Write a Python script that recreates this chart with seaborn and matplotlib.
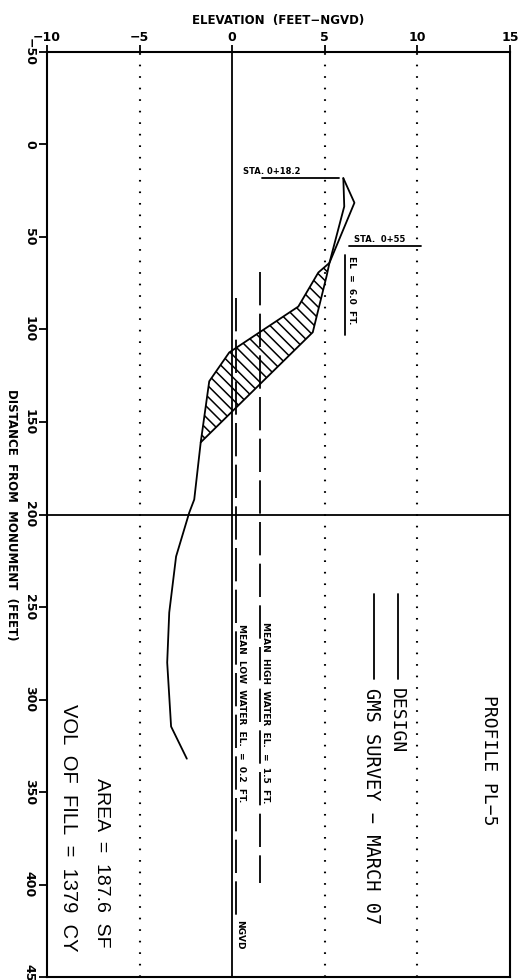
import matplotlib
matplotlib.use("Agg")
import matplotlib.pyplot as plt
import seaborn as sns
import pandas as pd

# ---- data ----
elev_ticks = [-10, -5, 0, 5, 10, 15]
dist_ticks = [-50, 0, 50, 100, 150, 200, 250, 300, 350, 400, 450]

survey_elev = [6.0, 6.05, 5.25, 4.65, 3.57, -0.16, -1.24, -1.70, -2.05, -2.32, -3.03, -3.40, -3.51, -3.30, -2.45]
survey_dist = [18.2, 33.5, 64.0, 69.2, 87.6, 112.4, 128.0, 161.0, 191.9, 199.0, 222.7, 253.0, 280.0, 314.6, 332.0]

design_elev = [6.0, 6.6, 5.25, 5.1, 4.35, -1.70]
design_dist = [18.2, 31.5, 64.0, 71.0, 101.5, 161.0]

mhw_elev = 1.5
mhw_range = [69, 399]
mlw_elev = 0.2
mlw_range = [83, 419]
grid_elev = [-5, 5, 10]
ngvd_elev = 0
station_line_dist = 200

sta1 = 18.2
sta2 = 55
berm_el = 6.0
area_sf = 187.6
vol_cy = 1379

# ---- style ----
sns.set_theme(style="white")
plt.rcParams['font.family'] = ['DejaVu Sans']
plt.rcParams['text.color'] = 'black'
plt.rcParams['axes.labelcolor'] = 'black'
plt.rcParams['xtick.color'] = 'black'
plt.rcParams['ytick.color'] = 'black'
plt.rcParams['lines.scale_dashes'] = False
plt.rcParams['hatch.linewidth'] = 1.1
plt.rcParams['hatch.color'] = 'black'

fig = plt.figure(figsize=(5.26, 9.8), dpi=100)
ax = fig.add_axes([47/526, 3/980, (510-47)/526, (977-52)/980])

ax.set_xlim(-10, 15)
ax.set_ylim(450, -50)

df_s = pd.DataFrame({"elev": survey_elev, "dist": survey_dist})
df_d = pd.DataFrame({"elev": design_elev, "dist": design_dist})
sns.lineplot(data=df_s, x="elev", y="dist", sort=False, estimator=None, color="black", lw=1.3, ax=ax)
sns.lineplot(data=df_d, x="elev", y="dist", sort=False, estimator=None, color="black", lw=1.3, ax=ax)

# hatched fill between design (upper) and survey (lower) where they form the fill area
i0 = design_dist.index(64.0)
j0 = survey_dist.index(64.0)
j1 = survey_dist.index(161.0)
poly_x = design_elev[i0:] + survey_elev[j0:j1 + 1][::-1]
poly_y = design_dist[i0:] + survey_dist[j0:j1 + 1][::-1]
ax.fill(poly_x, poly_y, facecolor="none", edgecolor="black", lw=0, hatch="\\\\\\")

# reference lines
ax.axvline(ngvd_elev, color="black", lw=1.3)
ax.axhline(station_line_dist, color="black", lw=1.3)
for g in grid_elev:
    ax.axvline(g, color="black", lw=1.5, linestyle=(0, (1.2, 7.1)))
ax.plot([mhw_elev, mhw_elev], mhw_range, color="black", lw=1.3, linestyle=(0, (24, 6)))
ax.plot([mlw_elev, mlw_elev], mlw_range, color="black", lw=1.3, linestyle=(0, (24, 6)))

# axes formatting
ax.xaxis.tick_top()
ax.xaxis.set_label_position("top")
ax.set_xticks(elev_ticks)
ax.set_xticklabels([str(t).replace("-", "\u2212") for t in elev_ticks], fontsize=9, fontweight="bold")
ax.set_yticks(dist_ticks)
ax.set_yticklabels([str(t).replace("-", "\u2212") for t in dist_ticks], fontsize=9, fontweight="bold",
                   rotation=-90, va="center")
ax.tick_params(axis="x", direction="out", length=5, width=1.3, pad=1, top=True, bottom=False)
ax.tick_params(axis="y", direction="out", length=6, width=1.3, pad=2, left=True)
ax.set_xlabel("ELEVATION  (FEET\u2212NGVD)", fontsize=8.5, fontweight="bold", labelpad=5)
ax.set_ylabel("DISTANCE  FROM  MONUMENT  (FEET)", fontsize=8.5, fontweight="bold", rotation=-90,
              labelpad=8, va="center")
for s in ax.spines.values():
    s.set_color("black")
    s.set_linewidth(1.5)
ax.grid(False)

mono = "DejaVu Sans Mono"
# station annotations
ax.text(0.6, 17.0, f"STA. 0+{sta1}", fontsize=6, fontweight="bold", ha="left", va="bottom")
ax.plot([1.6, 5.75], [sta1, sta1], color="black", lw=1.3)
ax.text(6.55, 53.8, f"STA.  0+{sta2}", fontsize=6, fontweight="bold", ha="left", va="bottom")
ax.plot([6.3, 10.2], [sta2, sta2], color="black", lw=1.3)
ax.text(6.2, 60, f"EL  =  {berm_el}  FT.", fontsize=6.5, fontweight="bold", rotation=-90, ha="left", va="top")
ax.plot([6.1, 6.1], [59.5, 103], color="black", lw=1.3)

# water level labels
ax.text(mhw_elev + 0.08, 258, f"MEAN  HIGH  WATER  EL.  =  {mhw_elev}  FT.", fontsize=6.5, fontweight="bold",
        rotation=-90, ha="left", va="top")
ax.text(mlw_elev + 0.08, 259, f"MEAN  LOW  WATER  EL.  =  {mlw_elev}  FT.", fontsize=6.5, fontweight="bold",
        rotation=-90, ha="left", va="top")
ax.text(ngvd_elev + 0.15, 419, "NGVD", fontsize=6.5, fontweight="bold", rotation=-90, ha="left", va="top")

# title and legend
ax.text(13.84, 333, "PROFILE PL\u22125", family=mono, fontsize=13, rotation=-90, ha="center", va="center")
ax.plot([8.97, 8.97], [243, 289], color="black", lw=1.3)
ax.text(8.86, 294, "DESIGN", family=mono, fontsize=13, rotation=-90, ha="center", va="top")
ax.plot([7.68, 7.68], [243, 289], color="black", lw=1.3)
ax.text(7.51, 294, "GMS SURVEY \u2212 MARCH 07", family=mono, fontsize=13.5, rotation=-90, ha="center", va="top")

ax.text(-7.08, 450 - 16, f"AREA  =  {area_sf}  SF", family="Liberation Sans", fontsize=14, rotation=-90,
        ha="center", va="bottom")
ax.text(-8.86, 450 - 14, f"VOL  OF  FILL  =  {vol_cy}  CY", family="Liberation Sans", fontsize=14.5, rotation=-90,
        ha="center", va="bottom")

fig.savefig("out.png", dpi=100)
